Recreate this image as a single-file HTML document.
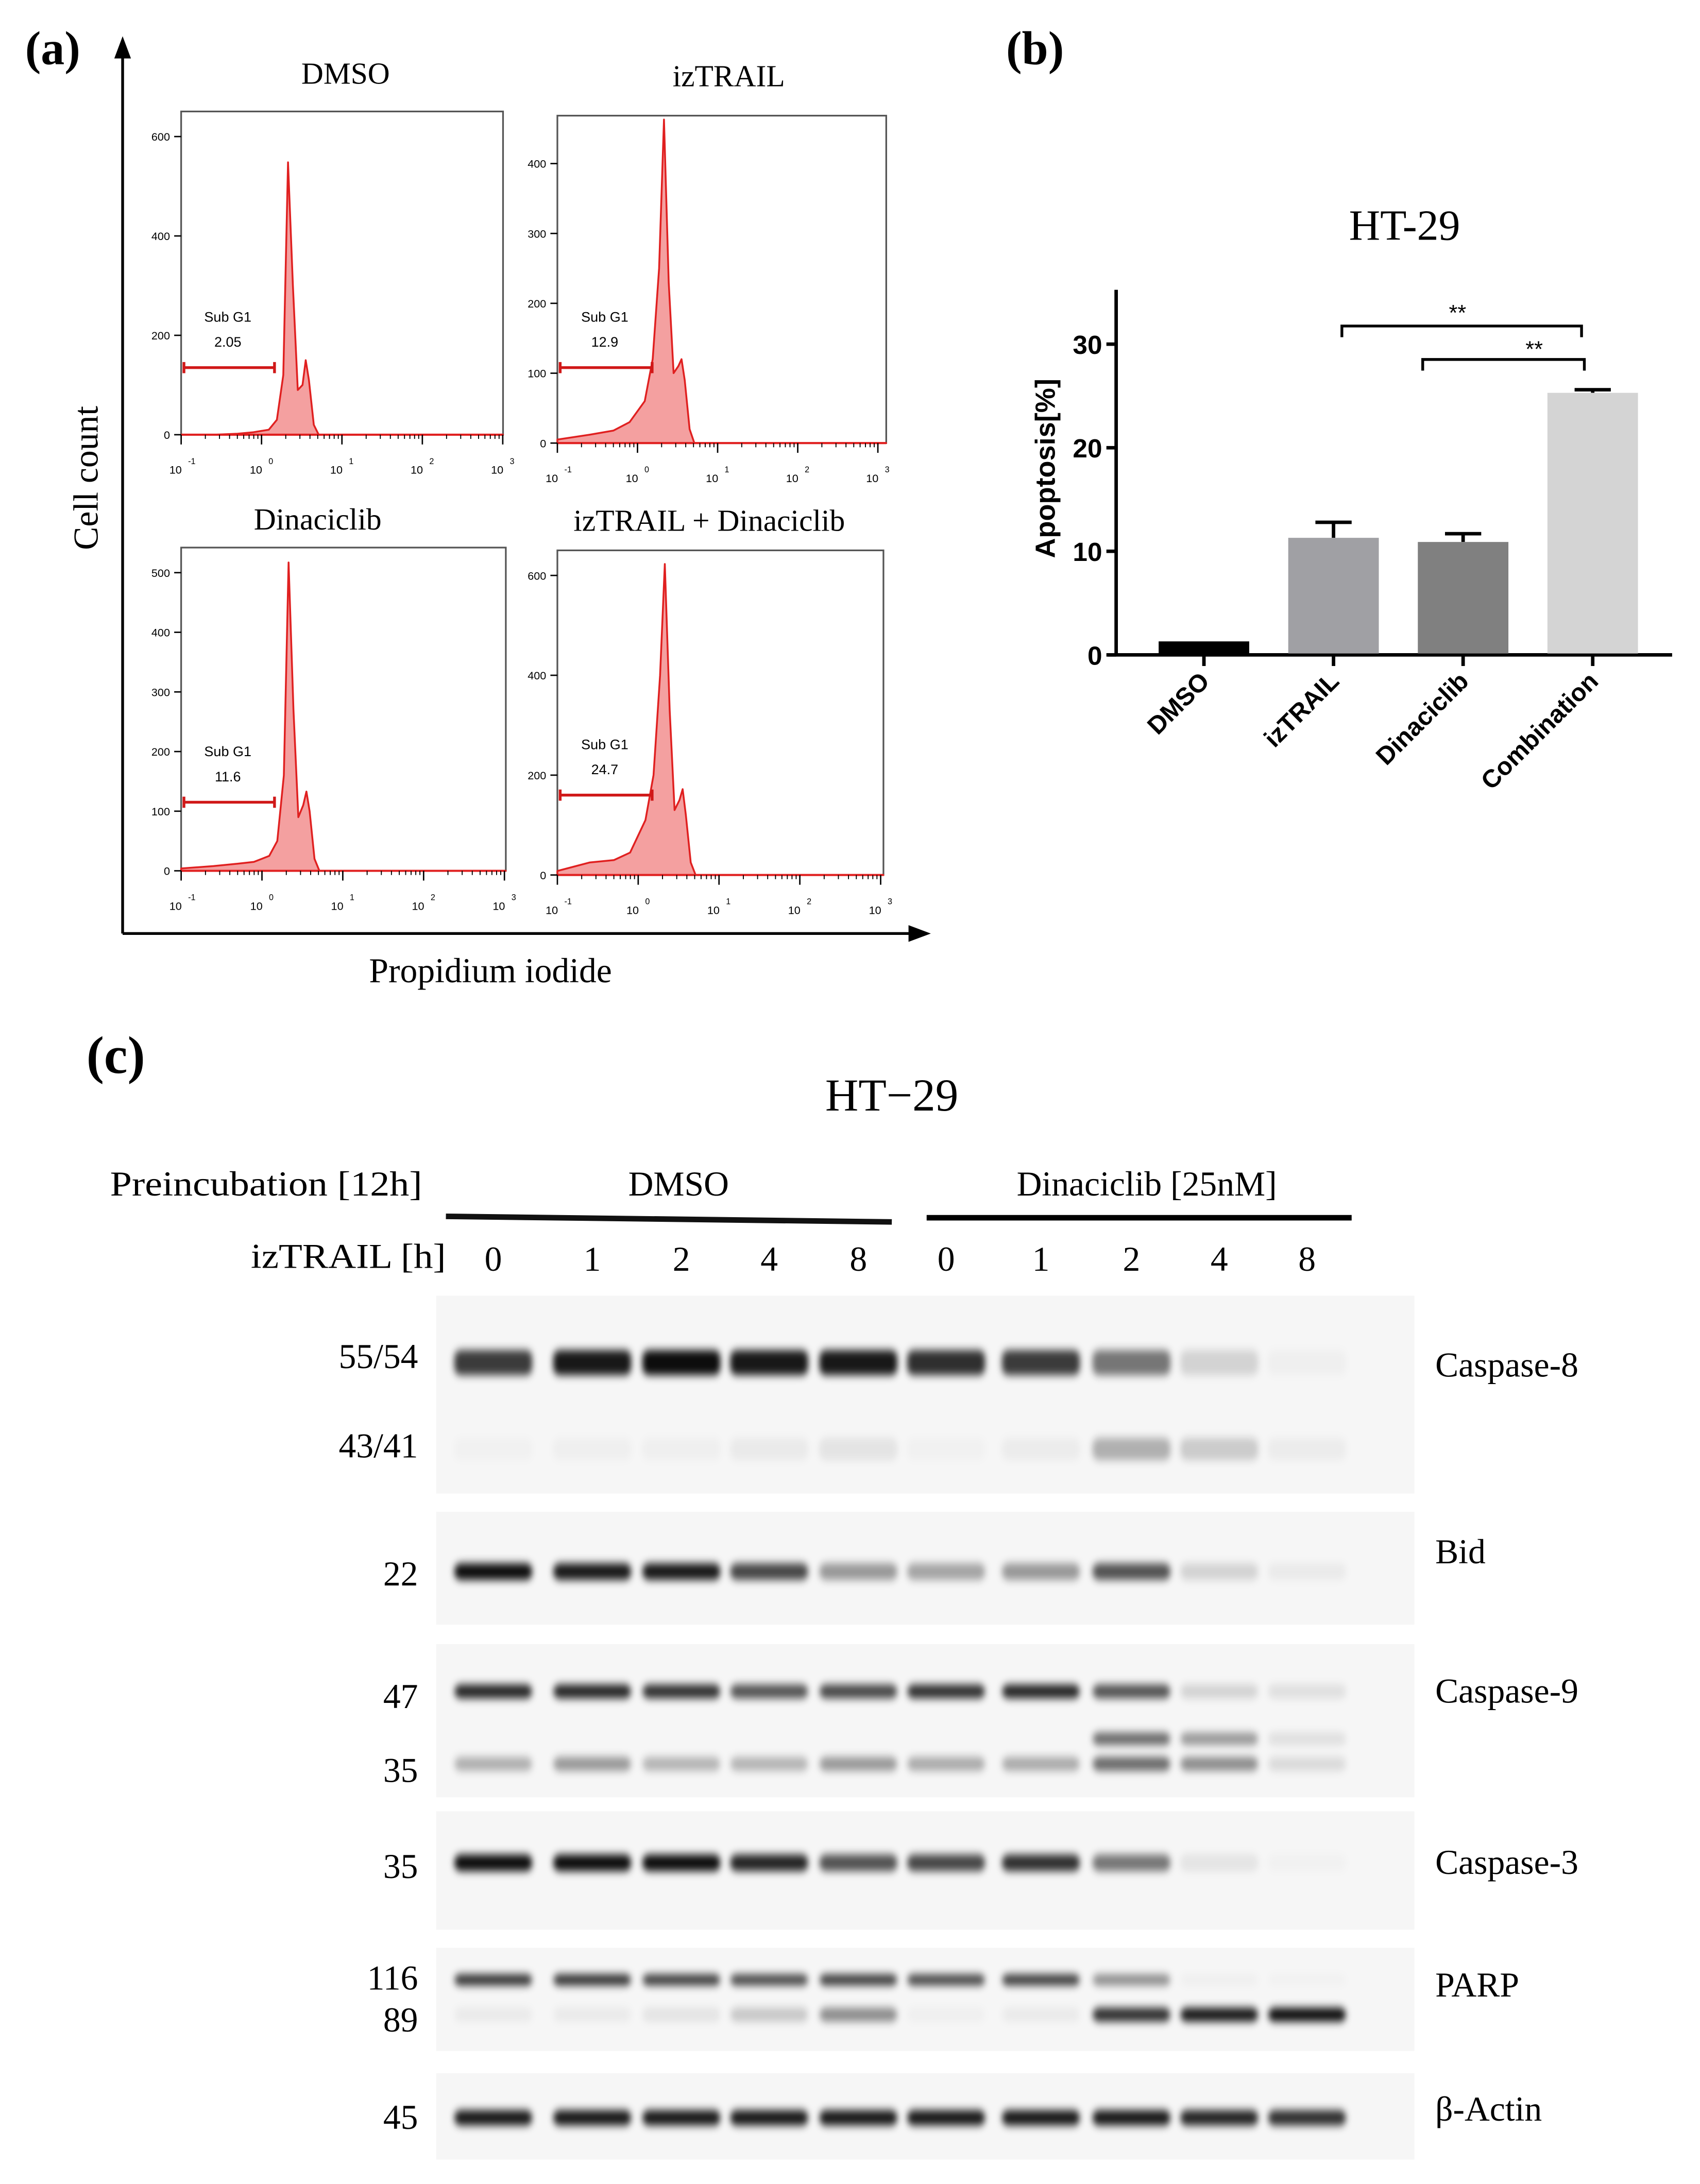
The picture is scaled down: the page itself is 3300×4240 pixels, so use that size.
<!DOCTYPE html>
<html><head><meta charset="utf-8">
<style>
html,body{margin:0;padding:0;background:#fff;}
svg{display:block;}
.serif{font-family:"Liberation Serif",serif;}
.sans{font-family:"Liberation Sans",sans-serif;}
</style></head>
<body>
<svg id="fig" width="3300" height="4240" viewBox="0 0 1220 1567.5" xmlns="http://www.w3.org/2000/svg">
<defs>
<filter id="blur" x="-30%" y="-100%" width="160%" height="300%"><feGaussianBlur stdDeviation="2.2 3"/></filter>
<marker id="arr" markerWidth="8" markerHeight="8" refX="4" refY="4" orient="auto"><path d="M0,1 L8,4 L0,7 z" fill="#000"/></marker>
</defs>
<g id="panelA"></g>
<g id="panelB"></g>
<g id="panelC"></g>
</svg>
<script>
const NS="http://www.w3.org/2000/svg";
function mk(parent,tag,attrs,text){const e=document.createElementNS(NS,tag);for(const k in attrs)e.setAttribute(k,attrs[k]);if(text!==undefined)e.textContent=text;parent.appendChild(e);return e;}

/* ---------- Panel (a) data ---------- */
const histTitles=["DMSO","izTRAIL","Dinaciclib","izTRAIL + Dinaciclib"];
const histSubG1=["2.05","12.9","11.6","24.7"];
const histLogX=[-1,-0.6,-0.3,-0.1,0.09,0.19,0.27,0.33,0.39,0.45,0.51,0.55,0.59,0.65,0.71,0.79,1,2,3];
const histCounts0=[0,0,2,5,10,30,120,548,300,90,100,150,110,20,0,0,0,0,0];
const histCounts1=[5,12,18,30,60,120,250,463,230,100,110,120,90,20,0,0,0,0,0];
const histCounts2=[4,8,12,15,25,50,160,517,270,90,110,133,100,20,0,0,0,0,0];
const histCounts3=[8,25,30,45,110,200,400,623,330,130,150,172,120,25,0,0,0,0,0];
const histMax=[600,450,500,600];
const histYTicks0=[0,200,400,600];
const histYTicks1=[0,100,200,300,400];
const histYTicks2=[0,100,200,300,400,500];
const histYTicks3=[0,200,400,600];
const histGateCount=[135,108,115,160];

/* ---------- Panel (b) data ---------- */
const barCats=["DMSO","izTRAIL","Dinaciclib","Combination"];
const barVals=[1.3,11.3,10.9,25.3];
const barErr=[0,1.5,0.8,0.3];
const barColors=["#000000","#a0a0a4","#808080","#d4d4d4"];
const barYTicks=[0,10,20,30];

/* ---------- Panel (c) data ---------- */
const laneLabels=["0","1","2","4","8","0","1","2","4","8"];
const casp8Full=[0.8,0.95,1,0.95,0.95,0.85,0.8,0.55,0.15,0.03];
const casp8Cleaved=[0.02,0.03,0.03,0.05,0.08,0.02,0.04,0.3,0.18,0.04];
const bidBand=[1,0.95,0.95,0.75,0.4,0.35,0.4,0.7,0.15,0.05];
const casp9Full=[0.9,0.9,0.85,0.7,0.75,0.85,0.9,0.7,0.15,0.1];
const casp9Mid=[0,0,0,0,0,0,0,0.6,0.4,0.1];
const casp9Cleaved=[0.3,0.4,0.28,0.28,0.4,0.32,0.32,0.6,0.45,0.12];
const casp3Band=[1,1,1,0.9,0.7,0.75,0.85,0.55,0.08,0.02];
const parpFull=[0.85,0.85,0.8,0.75,0.8,0.75,0.8,0.45,0.03,0.02];
const parpCleaved=[0.05,0.05,0.08,0.2,0.45,0.03,0.05,0.85,0.95,1];
const actinBand=[0.95,0.95,0.95,0.95,0.95,0.95,0.95,0.95,0.9,0.85];

/* ===== Panel A ===== */
const A=document.getElementById('panelA');
let t=mk(A,'text',{x:18,y:46,'font-size':34,'font-weight':'bold',class:'serif'},'(a)');

let ax=mk(A,'line',{x1:88,y1:670,x2:88,y2:34,stroke:'#000','stroke-width':2,'marker-end':'url(#arr)'});

ax=mk(A,'line',{x1:88,y1:670,x2:660,y2:670,stroke:'#000','stroke-width':2,'marker-end':'url(#arr)'});

t=mk(A,'text',{x:0,y:0,'font-size':25,class:'serif','text-anchor':'middle',transform:'translate(70,343) rotate(-90)'},'Cell count');

t=mk(A,'text',{x:352,y:705,'font-size':25,class:'serif','text-anchor':'middle'},'Propidium iodide');


const boxes=[[130,80,361,312],[400,83,636,318],[130,393,363,625],[400,395,634,628]];
const titlePos=[[248,60],[523,62],[228,380],[509,381]];
const countsAll=[histCounts0,histCounts1,histCounts2,histCounts3];
const yTicksAll=[histYTicks0,histYTicks1,histYTicks2,histYTicks3];
const decadePx=[57.7,57.5,58,58];
boxes.forEach((b,i)=>{
  const g=mk(A,'g',{});
  
  const [x0,y0,x1,y1]=b;
  const xs=v=>x0+(v+1)*decadePx[i];
  const ys=c=>y1-(c/histMax[i])*(y1-y0-18)*(histMax[i]===450?1.04:1);
  let tt=mk(g,'text',{x:titlePos[i][0],y:titlePos[i][1],'font-size':22,class:'serif','text-anchor':'middle'},histTitles[i]);
  
  const fr=mk(g,'rect',{x:x0,y:y0,width:x1-x0,height:y1-y0,fill:'none',stroke:'#555','stroke-width':1.2});
  
  const cs=countsAll[i];
  let d='M'+xs(histLogX[0])+','+ys(0);
  histLogX.forEach((v,k)=>{d+=' L'+xs(v).toFixed(1)+','+ys(cs[k]).toFixed(1);});
  d+=' L'+x1+','+ys(0)+' Z';
  const p=mk(g,'path',{d:d,fill:'#f4a0a0',stroke:'#e02020','stroke-width':1.3,'stroke-linejoin':'round'});
  
  mk(g,'line',{x1:x0,y1:y1,x2:x1,y2:y1,stroke:'#e02020','stroke-width':1.5});
  yTicksAll[i].forEach(v=>{
    const y=ys(v);
    mk(g,'line',{x1:x0-5,y1:y,x2:x0,y2:y,stroke:'#000','stroke-width':1});
    const tl=mk(g,'text',{x:x0-8,y:y+3,'font-size':8,class:'sans','text-anchor':'end'},String(v));
    
  });
  [-1,0,1,2,3].forEach(v=>{
    const x=xs(v);
    mk(g,'line',{x1:x,y1:y1,x2:x,y2:y1+7,stroke:'#000','stroke-width':1});
    for(let m=2;m<10&&v<3;m++){const xm=xs(v+Math.log10(m));mk(g,'line',{x1:xm,y1:y1,x2:xm,y2:y1+3,stroke:'#000','stroke-width':0.7});}
    const tl=mk(g,'text',{x:x-4,y:y1+28,'font-size':8,class:'sans','text-anchor':'middle'},'10');
    
    mk(g,'text',{x:x+5,y:y1+21,'font-size':6,class:'sans'},String(v));
  });
  const gy=ys(histGateCount[i]);
  const gx2=x0+ (i%2===0?67:68);
  const gl=mk(g,'path',{d:`M${x0+2},${gy} L${gx2},${gy} M${x0+2},${gy-4} L${x0+2},${gy+4} M${gx2},${gy-4} L${gx2},${gy+4}`,stroke:'#d01818','stroke-width':2,fill:'none'});
  
  const cx=(x0+gx2)/2;
  mk(g,'text',{x:cx,y:gy-33,'font-size':10,class:'sans','text-anchor':'middle'},'Sub G1');
  const vt=mk(g,'text',{x:cx,y:gy-15,'font-size':10,class:'sans','text-anchor':'middle'},histSubG1[i]);
  
});

/* ===== Panel B ===== */
const B=document.getElementById('panelB');
t=mk(B,'text',{x:722,y:46,'font-size':34,'font-weight':'bold',class:'serif'},'(b)');

t=mk(B,'text',{x:1008,y:172,'font-size':31,class:'serif','text-anchor':'middle'},'HT-29');

const bx0=801, by0=470, pxPerUnit=(470-247)/30;
const yB=v=>by0-v*pxPerUnit;
const slot=93, firstCenter=864, bw=65;
const xB=i=>firstCenter+i*slot;
mk(B,'line',{x1:bx0,y1:208,x2:bx0,y2:by0+1,stroke:'#000','stroke-width':2.5});
mk(B,'line',{x1:bx0-6,y1:by0,x2:1200,y2:by0,stroke:'#000','stroke-width':2.5});
barYTicks.forEach(v=>{
  mk(B,'line',{x1:bx0-7,y1:yB(v),x2:bx0,y2:yB(v),stroke:'#000','stroke-width':2.5});
  const tl=mk(B,'text',{x:bx0-10,y:yB(v)+7,'font-size':19,'font-weight':'bold',class:'sans','text-anchor':'end'},String(v));
  
});
t=mk(B,'text',{x:0,y:0,'font-size':20,'font-weight':'bold',class:'sans','text-anchor':'middle',transform:`translate(757,${yB(18)}) rotate(-90)`},'Apoptosis[%]');

barVals.forEach((v,i)=>{
  const cx=xB(i);
  if(barErr[i]>0){
    const e=mk(B,'path',{d:`M${cx},${yB(v)} L${cx},${yB(v+barErr[i])} M${cx-13},${yB(v+barErr[i])} L${cx+13},${yB(v+barErr[i])}`,stroke:'#000','stroke-width':2.5,fill:'none'});
    
  }
  const r=mk(B,'rect',{x:cx-bw/2,y:yB(v),width:bw,height:by0-yB(v)-1,fill:barColors[i]});
  
  mk(B,'line',{x1:cx,y1:by0,x2:cx,y2:by0+8,stroke:'#000','stroke-width':2.5});
  const tl=mk(B,'text',{x:0,y:0,'font-size':18,'font-weight':'bold',class:'sans','text-anchor':'end',transform:`translate(${cx+5},${by0+20}) rotate(-45)`},barCats[i]);
  
});
const br1=mk(B,'path',{d:`M${xB(1)+6},242 L${xB(1)+6},234 L${xB(3)-8},234 L${xB(3)-8},242`,stroke:'#000','stroke-width':2,fill:'none'});

mk(B,'text',{x:(xB(1)+xB(3))/2-4,y:230,'font-size':16,class:'sans','text-anchor':'middle'},'**');
const br2=mk(B,'path',{d:`M${xB(2)-29},266 L${xB(2)-29},258 L${xB(3)-6},258 L${xB(3)-6},266`,stroke:'#000','stroke-width':2,fill:'none'});

mk(B,'text',{x:1101,y:256,'font-size':16,class:'sans','text-anchor':'middle'},'**');

/* ===== Panel C ===== */
const C=document.getElementById('panelC');
t=mk(C,'text',{x:62,y:770,'font-size':38,'font-weight':'bold',class:'serif'},'(c)');

t=mk(C,'text',{x:640,y:797,'font-size':33,class:'serif','text-anchor':'middle'},'HT\u221229');

mk(C,'text',{x:303,y:858,'font-size':25,class:'serif','text-anchor':'end','textLength':224,'lengthAdjust':'spacingAndGlyphs'},'Preincubation [12h]');
t=mk(C,'text',{x:487,y:858,'font-size':25,class:'serif','text-anchor':'middle'},'DMSO');

t=mk(C,'text',{x:823,y:858,'font-size':25,class:'serif','text-anchor':'middle'},'Dinaciclib [25nM]');

mk(C,'path',{d:'M320,873 L640,877',stroke:'#111','stroke-width':4});
mk(C,'line',{x1:665,y1:874,x2:970,y2:874,stroke:'#000','stroke-width':4});
mk(C,'text',{x:320,y:910,'font-size':25,class:'serif','text-anchor':'end','textLength':140,'lengthAdjust':'spacingAndGlyphs'},'izTRAIL [h]');
const laneX=[354,425,489,552,616,679,747,812,875,938];
laneLabels.forEach((l,i)=>{
  const tl=mk(C,'text',{x:laneX[i],y:912,'font-size':25,class:'serif','text-anchor':'middle'},l);
  
});
function blot(name,y0,y1,rows,label,labelY,mws){
  const g=mk(C,'g',{});
  
  mk(g,'rect',{x:313,y:y0,width:702,height:y1-y0,fill:'#f6f6f6'});
  const bg=mk(g,'g',{filter:'url(#blur)'});
  rows.forEach(r=>{
    r.vals.forEach((v,i)=>{
      if(v<=0)return;
      const b=mk(bg,'rect',{x:laneX[i]-28,y:r.y-r.h/2,width:56,height:r.h,rx:5,fill:'#000','fill-opacity':Math.min(1,v*0.95)});
      
    });
  });
  const lt=mk(g,'text',{x:1030,y:labelY,'font-size':25,class:'serif'},label);
  
  mws.forEach(m=>{
    const mt=mk(g,'text',{x:300,y:m[1],'font-size':25,class:'serif','text-anchor':'end'},m[0]);
    
  });
}
blot('caspase-8-blot',930,1072,[{y:978,h:18,vals:casp8Full},{y:1040,h:16,vals:casp8Cleaved}],'Caspase-8',988,[['55/54',982],['43/41',1046]]);
blot('bid-blot',1085,1166,[{y:1128,h:12,vals:bidBand}],'Bid',1122,[['22',1138]]);
blot('caspase-9-blot',1180,1290,[{y:1214,h:10,vals:casp9Full},{y:1248,h:9,vals:casp9Mid},{y:1266,h:10,vals:casp9Cleaved}],'Caspase-9',1222,[['47',1226],['35',1279]]);
blot('caspase-3-blot',1300,1385,[{y:1337,h:12,vals:casp3Band}],'Caspase-3',1345,[['35',1348]]);
blot('parp-blot',1398,1472,[{y:1421,h:8,vals:parpFull},{y:1446,h:10,vals:parpCleaved}],'PARP',1433,[['116',1428],['89',1458]]);
blot('beta-actin-blot',1488,1550,[{y:1520,h:11,vals:actinBand}],'\u03B2-Actin',1522,[['45',1528]]);
</script>
</body></html>
